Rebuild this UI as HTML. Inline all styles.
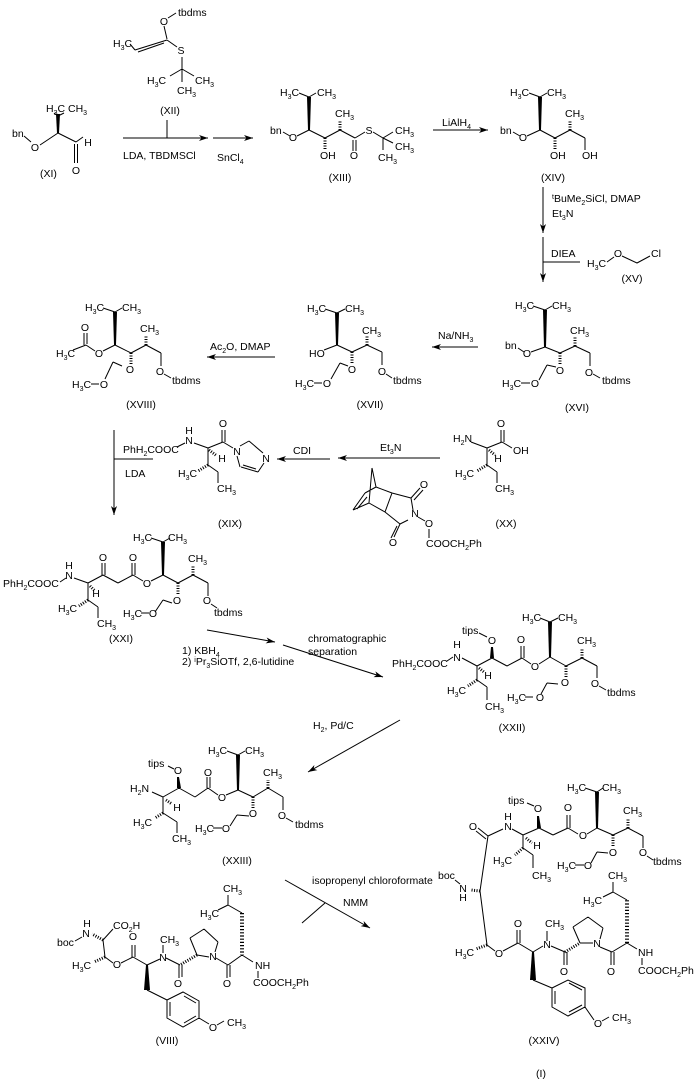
<!DOCTYPE html>
<html><head><meta charset="utf-8">
<style>
html,body{margin:0;padding:0;background:#fff;}
svg{display:block;}
text{font-family:"Liberation Sans",Arial,sans-serif;font-size:10.5px;fill:#000;}
.m{text-anchor:middle;}
.s{font-size:7px;}
.b{stroke:#000;stroke-width:1;fill:none;}
.h{stroke:#000;stroke-width:3;stroke-dasharray:1 1.5;fill:none;}
.hw{stroke:#000;stroke-width:4;stroke-dasharray:1.2 2;fill:none;}
.a{stroke:#000;stroke-width:1;fill:none;marker-end:url(#ah);}
</style></head>
<body>
<svg width="697" height="1080" viewBox="0 0 697 1080" xmlns="http://www.w3.org/2000/svg">
<defs>
<marker id="ah" markerUnits="userSpaceOnUse" markerWidth="10" markerHeight="7" refX="9" refY="3.5" orient="auto">
<path d="M0,0.5 L9,3.5 L0,6.5 L2.5,3.5 Z" fill="#000"/>
</marker>
</defs>

<!-- single bonds -->
<path class="b" d="
M168 18L176 13 M164 26L167 39 M167 40L135 50 M164 43L138 52 M130 44L135 50 M167 40L177 47 M182 57L182 69 M182 69L170 76 M182 69L194 76 M182 69L182 82 M167 120L167 138
M54 113L58 116 M58 116L64 113 M24 136L31 142 M40 145L58 133 M58 133L76 142 M76 142L83 137 M74.5 144L74.5 163 M77.5 144L77.5 163
M299 93L309 97 M309 97L316 93 M283 132L290 136 M297 136L309 130 M309 130L325 138 M325 138L340 130 M340 130L355 138 M353 140L353 151 M356 140L356 151 M355 138L365 132 M373 132L383 138 M383 138L393 132 M383 138L393 143 M383 138L383 150
M529 93L540 97 M540 97L547 93 M513 132L520 136 M527 136L540 130 M540 130L555 138 M555 138L570 130 M570 130L585 138 M585 138L585 150
M543 262L580 262
M607 262L614 257 M622 256L637 263 M637 263L650 256
M533 306L545 310 M545 310L552 306 M518 348L524 352 M531 352L545 347 M545 347L560 353 M560 353L575 346 M575 346L590 353 M590 353L590 366 M593 374L600 378 M547 365L556 367 M547 365L539 380 M521 383L530 383
M325 309L337 313 M337 313L345 309 M324 350L337 345 M337 345L352 352 M352 352L367 345 M367 345L382 352 M382 352L382 365 M386 374L392 378 M340 363L348 366 M340 363L331 379 M314 383L322 383
M103 308L115 312 M115 312L122 308 M103 351L115 345 M84 333L84 345 M87 333L87 344 M86 345L95 351 M73 350L86 345 M115 345L131 353 M131 353L146 345 M146 345L161 353 M161 353L161 366 M164 374L171 378 M113 362L122 366 M113 362L105 379 M91 384L99 384
M114 459L153 459
M177 447L185 443 M194 443L208 448 M208 448L223 442 M222 442L222 430 M225 442L225 430 M223 442L233 448
M240 446L249 441 M249 441L263 453 M264 463L258 472 M258 472L241 467 M256 469L243 465 M240 467L237 456
M208 448L208 465 M208 465L218 472 M218 472L218 483
M372 468L376 487 M372 468L369 503 M376 487L392 493 M376 487L365 493 M365 493L353 510 M367 497L357 509 M353 510L369 503 M369 503L385 512 M392 493L385 512
M392 493L411 498 M411 498L420 488 M414 500L423 490 M411 498L413 510 M385 512L400 524 M408 520L400 524 M400 524L394 537 M397 526L391 538 M418 517L425 521 M429 529L429 538
M471 442L487 448 M487 448L502 442 M501 442L501 430 M504 442L504 430 M502 442L512 448 M487 448L487 465 M487 465L497 472 M497 472L497 483
M151 538L163 542 M163 542L170 538
M60 582L66 578 M74 578L88 583 M88 583L103 575 M102 575L102 563 M105 575L105 563 M103 575L118 583 M118 583L133 575 M132 575L132 563 M135 575L135 563 M133 575L143 581 M151 581L163 575 M163 575L178 583 M178 583L193 575 M193 575L208 583 M208 583L208 596 M211 604L217 608
M88 583L88 600 M88 600L98 607 M98 607L98 618 M163 600L172 603 M163 600L155 612 M141 613L149 613
M540 618L550 622 M550 622L558 618 M479 633L487 637
M447 661L453 657 M462 658L477 666 M477 666L492 658 M492 658L507 666 M507 666L522 658 M521 658L521 646 M524 658L524 646 M522 658L531 664 M539 664L550 657 M550 657L566 666 M566 666L582 658 M582 658L597 666 M597 666L597 678 M599 686L606 690
M477 666L477 680 M477 680L487 687 M487 687L487 700 M547 683L558 684 M547 683L541 694 M525 697L533 697
M227 751L238 755 M238 755L245 751 M168 766L174 769
M152 792L163 797 M163 797L179 788 M179 788L195 797 M195 797L208 788 M207 788L207 777 M210 788L210 777 M208 788L218 795 M226 795L238 790 M238 790L253 797 M253 797L268 788 M268 788L283 797 M283 797L283 810 M286 818L293 822
M163 797L163 813 M163 813L177 822 M177 822L177 833 M237 815L249 816 M237 815L230 826 M213 828L222 828
M325 903L302 923
M228 895L228 905 M218 910L228 905 M228 905L242 913
M242 955L253 962 M258 971L258 978 M242 955L228 965 M227 965L227 978 M230 965L230 977 M228 965L216 958
M215 952L218 942 M218 942L204 929 M204 929L190 938 M190 938L197 955 M197 955L209 957
M179 965L179 978 M182 965L182 977 M180 965L166 958 M163 953L163 945 M160 959L147 965 M147 990L167 1000
M167 1000L183 992L199 1001L199 1018L183 1027L167 1018Z M184 996L196 1003 M196 1016L184 1023 M170 1002L170 1016
M199 1018L209 1024 M217 1025L224 1021
M147 965L133 957 M132 957L132 945 M135 957L135 945 M133 957L121 963 M113 963L105 957 M105 957L103 940 M103 940L113 929 M75 941L82 937
M585 788L597 792 M597 792L603 788 M527 803L534 806
M478 828L488 836 M476 831L486 839 M488 836L503 829 M512 829L523 835 M523 835L539 828 M539 828L553 835 M553 835L568 828 M567 828L567 815 M570 828L570 815 M568 828L578 834 M587 834L597 828 M597 828L613 835 M613 835L628 828 M628 828L643 836 M643 836L643 848 M647 856L653 860
M523 835L523 848 M523 848L533 855 M533 855L533 868 M597 852L608 853 M597 852L591 863 M575 865L584 865
M488 836L480 891 M480 891L487 945 M455 880L460 884
M487 945L495 951 M503 951L518 943 M517 943L517 930 M520 943L520 930 M518 943L533 952 M533 952L543 946 M547 941L547 931
M533 980L552 988
M552 988L568 980L585 988L585 1007L568 1016L552 1007Z M569 983L582 990 M582 1005L569 1012 M555 991L555 1004
M585 1007L594 1020 M602 1021L609 1017
M551 946L565 952 M564 952L564 965 M567 952L567 965
M580 943L593 943 M600 939L603 928 M603 928L588 917 M588 917L573 927 M573 927L580 943
M600 947L612 952 M611 952L611 965 M614 952L614 965 M612 952L627 943
M627 900L613 892 M613 892L613 882 M613 892L603 897 M627 943L637 949 M642 958L642 965
"/>

<!-- hashed bonds -->
<path class="h" d="
M325 138L325 150 M340 130L340 120
M555 138L555 150 M570 130L570 120
M560 353L560 365 M575 346L575 336
M352 352L352 364 M367 345L367 335
M131 353L131 365 M146 345L146 335
M209 450L217 456 M208 465L198 471
M489 450L495 455 M487 465L477 471
M90 586L95 591 M88 600L79 606 M178 583L178 595 M193 575L193 565
M479 668L484 672 M477 680L468 686 M566 666L566 677 M582 658L582 648
M166 800L172 804 M163 813L155 818 M253 797L253 808 M268 788L268 780
M197 955L180 965 M105 957L94 962 M103 940L92 934
M526 838L532 843 M523 848L515 855 M613 835L613 847 M628 828L628 818 M480 891L471 890 M487 945L476 949 M565 952L580 943
"/>
<path class="hw" d="M242 913L242 955 M627 943L627 900"/>

<!-- wedges -->
<g fill="#000">
<polygon points="56,114 60,114 59,133 57,133"/>
<polygon points="307,97 311,97 310,130 308,130"/>
<polygon points="538,97 542,97 541,130 539,130"/>
<polygon points="543,310 547,310 546,347 544,347"/>
<polygon points="335,313 339,313 338,345 336,345"/>
<polygon points="113,312 117,312 116,345 114,345"/>
<polygon points="161,542 165,542 164,575 162,575"/>
<polygon points="548,622 552,622 551,657 549,657"/>
<polygon points="491,647 493,647 494,658 490,658"/>
<polygon points="236,755 240,755 239,790 237,790"/>
<polygon points="177,777 179,777 181,788 177,788"/>
<polygon points="146,965 148,965 150,990 144,990"/>
<polygon points="595,792 599,792 598,828 596,828"/>
<polygon points="537,816 539,816 541,828 537,828"/>
<polygon points="532,952 534,952 536,980 530,980"/>
</g>

<!-- reaction arrows -->
<path class="a" d="M123 138L208 138"/>
<path class="a" d="M213 138L253 138"/>
<path class="a" d="M433 130L488 130"/>
<path class="a" d="M543 187L543 233"/>
<path class="a" d="M543 237L543 282"/>
<path class="a" d="M478 347L432 347"/>
<path class="a" d="M275 357L207 357"/>
<path class="a" d="M114 430L114 515"/>
<path class="a" d="M330 459L277 459"/>
<path class="a" d="M440 458L338 458"/>
<path class="a" d="M207 630L275 642"/>
<path class="a" d="M283 645L383 677"/>
<path class="a" d="M400 720L308 772"/>
<path class="a" d="M285 880L370 928"/>

<!-- XII -->
<text x="178" y="16">tbdms</text>
<text class="m" x="164" y="25">O</text>
<text x="113" y="47">H<tspan class="s" dy="3">3</tspan><tspan dy="-3">C</tspan></text>
<text class="m" x="181" y="54">S</text>
<text x="147" y="84">H<tspan class="s" dy="3">3</tspan><tspan dy="-3">C</tspan></text>
<text x="195" y="84">CH<tspan class="s" dy="3">3</tspan></text>
<text x="177" y="94">CH<tspan class="s" dy="3">3</tspan></text>
<text class="m" x="170" y="114">(XII)</text>
<text x="123" y="159">LDA, TBDMSCl</text>
<text x="217" y="161">SnCl<tspan class="s" dy="3">4</tspan></text>

<!-- XI -->
<text x="46" y="112">H<tspan class="s" dy="3">3</tspan><tspan dy="-3">C</tspan></text>
<text x="68" y="112">CH<tspan class="s" dy="3">3</tspan></text>
<text x="12" y="137">bn</text>
<text class="m" x="35" y="151">O</text>
<text class="m" x="88" y="146">H</text>
<text class="m" x="76" y="174">O</text>
<text x="40" y="177">(XI)</text>

<!-- XIII -->
<text x="280" y="96">H<tspan class="s" dy="3">3</tspan><tspan dy="-3">C</tspan></text>
<text x="317" y="96">CH<tspan class="s" dy="3">3</tspan></text>
<text x="270" y="134">bn</text>
<text class="m" x="293" y="141">O</text>
<text x="320" y="159">OH</text>
<text x="335" y="117">CH<tspan class="s" dy="3">3</tspan></text>
<text class="m" x="354" y="159">O</text>
<text class="m" x="369" y="134">S</text>
<text x="395" y="134">CH<tspan class="s" dy="3">3</tspan></text>
<text x="395" y="150">CH<tspan class="s" dy="3">3</tspan></text>
<text x="378" y="161">CH<tspan class="s" dy="3">3</tspan></text>
<text class="m" x="340" y="181">(XIII)</text>
<text x="442" y="126">LiAlH<tspan class="s" dy="3">4</tspan></text>

<!-- XIV -->
<text x="510" y="96">H<tspan class="s" dy="3">3</tspan><tspan dy="-3">C</tspan></text>
<text x="547" y="96">CH<tspan class="s" dy="3">3</tspan></text>
<text x="500" y="134">bn</text>
<text class="m" x="523" y="141">O</text>
<text x="550" y="159">OH</text>
<text x="565" y="117">CH<tspan class="s" dy="3">3</tspan></text>
<text x="582" y="159">OH</text>
<text class="m" x="553" y="181">(XIV)</text>
<text x="552" y="202"><tspan class="s" dy="-3">t</tspan><tspan dy="3">BuMe</tspan><tspan class="s" dy="3">2</tspan><tspan dy="-3">SiCl, DMAP</tspan></text>
<text x="552" y="217">Et<tspan class="s" dy="3">3</tspan><tspan dy="-3">N</tspan></text>
<text x="551" y="257">DIEA</text>

<!-- XV -->
<text x="587" y="267">H<tspan class="s" dy="3">3</tspan><tspan dy="-3">C</tspan></text>
<text class="m" x="618" y="257">O</text>
<text x="651" y="257">Cl</text>
<text class="m" x="632" y="282">(XV)</text>

<!-- XVI -->
<text x="515" y="309">H<tspan class="s" dy="3">3</tspan><tspan dy="-3">C</tspan></text>
<text x="552" y="309">CH<tspan class="s" dy="3">3</tspan></text>
<text x="505" y="349">bn</text>
<text class="m" x="527" y="357">O</text>
<text class="m" x="560" y="374">O</text>
<text x="570" y="334">CH<tspan class="s" dy="3">3</tspan></text>
<text class="m" x="589" y="376">O</text>
<text x="602" y="384">tbdms</text>
<text x="502" y="387">H<tspan class="s" dy="3">3</tspan><tspan dy="-3">C</tspan></text>
<text class="m" x="535" y="387">O</text>
<text class="m" x="577" y="411">(XVI)</text>
<text x="438" y="339">Na/NH<tspan class="s" dy="3">3</tspan></text>

<!-- XVII -->
<text x="307" y="312">H<tspan class="s" dy="3">3</tspan><tspan dy="-3">C</tspan></text>
<text x="345" y="312">CH<tspan class="s" dy="3">3</tspan></text>
<text x="309" y="357">HO</text>
<text class="m" x="352" y="373">O</text>
<text x="362" y="334">CH<tspan class="s" dy="3">3</tspan></text>
<text class="m" x="382" y="375">O</text>
<text x="393" y="384">tbdms</text>
<text x="295" y="387">H<tspan class="s" dy="3">3</tspan><tspan dy="-3">C</tspan></text>
<text class="m" x="327" y="387">O</text>
<text class="m" x="370" y="408">(XVII)</text>
<text x="210" y="350">Ac<tspan class="s" dy="3">2</tspan><tspan dy="-3">O, DMAP</tspan></text>

<!-- XVIII -->
<text x="85" y="311">H<tspan class="s" dy="3">3</tspan><tspan dy="-3">C</tspan></text>
<text x="122" y="311">CH<tspan class="s" dy="3">3</tspan></text>
<text class="m" x="85" y="331">O</text>
<text class="m" x="99" y="357">O</text>
<text x="56" y="357">H<tspan class="s" dy="3">3</tspan><tspan dy="-3">C</tspan></text>
<text class="m" x="130" y="373">O</text>
<text x="140" y="332">CH<tspan class="s" dy="3">3</tspan></text>
<text class="m" x="160" y="375">O</text>
<text x="172" y="384">tbdms</text>
<text x="72" y="388">H<tspan class="s" dy="3">3</tspan><tspan dy="-3">C</tspan></text>
<text class="m" x="104" y="388">O</text>
<text class="m" x="141" y="408">(XVIII)</text>

<text x="123" y="453">PhH<tspan class="s" dy="3">2</tspan><tspan dy="-3">COOC</tspan></text>
<text x="125" y="477">LDA</text>

<!-- XIX -->
<text class="m" x="189" y="434">H</text>
<text class="m" x="189" y="444">N</text>
<text class="m" x="223" y="427">O</text>
<text class="m" x="237" y="455">N</text>
<text class="m" x="266" y="462">N</text>
<text class="m" x="222" y="462">H</text>
<text x="178" y="477">H<tspan class="s" dy="3">3</tspan><tspan dy="-3">C</tspan></text>
<text x="217" y="492">CH<tspan class="s" dy="3">3</tspan></text>
<text class="m" x="230" y="527">(XIX)</text>
<text x="293" y="454">CDI</text>
<text x="380" y="451">Et<tspan class="s" dy="3">3</tspan><tspan dy="-3">N</tspan></text>

<!-- norbornene reagent -->
<text class="m" x="424" y="488">O</text>
<text class="m" x="415" y="517">N</text>
<text class="m" x="393" y="546">O</text>
<text class="m" x="429" y="527">O</text>
<text x="426" y="547">COOCH<tspan class="s" dy="3">2</tspan><tspan dy="-3">Ph</tspan></text>

<!-- XX -->
<text x="453" y="442">H<tspan class="s" dy="3">2</tspan><tspan dy="-3">N</tspan></text>
<text class="m" x="501" y="427">O</text>
<text x="513" y="454">OH</text>
<text class="m" x="498" y="462">H</text>
<text x="455" y="477">H<tspan class="s" dy="3">3</tspan><tspan dy="-3">C</tspan></text>
<text x="495" y="492">CH<tspan class="s" dy="3">3</tspan></text>
<text class="m" x="506" y="527">(XX)</text>

<!-- XXI -->
<text x="133" y="541">H<tspan class="s" dy="3">3</tspan><tspan dy="-3">C</tspan></text>
<text x="168" y="541">CH<tspan class="s" dy="3">3</tspan></text>
<text x="3" y="587">PhH<tspan class="s" dy="3">2</tspan><tspan dy="-3">COOC</tspan></text>
<text class="m" x="69" y="569">H</text>
<text class="m" x="69" y="579">N</text>
<text class="m" x="103" y="561">O</text>
<text class="m" x="133" y="561">O</text>
<text class="m" x="147" y="587">O</text>
<text class="m" x="177" y="604">O</text>
<text x="188" y="562">CH<tspan class="s" dy="3">3</tspan></text>
<text class="m" x="207" y="604">O</text>
<text x="214" y="616">tbdms</text>
<text x="123" y="617">H<tspan class="s" dy="3">3</tspan><tspan dy="-3">C</tspan></text>
<text class="m" x="153" y="617">O</text>
<text class="m" x="96" y="597">H</text>
<text x="58" y="612">H<tspan class="s" dy="3">3</tspan><tspan dy="-3">C</tspan></text>
<text x="97" y="627">CH<tspan class="s" dy="3">3</tspan></text>
<text class="m" x="121" y="642">(XXI)</text>
<text x="182" y="654">1) KBH<tspan class="s" dy="3">4</tspan></text>
<text x="182" y="665">2) <tspan class="s" dy="-3">i</tspan><tspan dy="3">Pr</tspan><tspan class="s" dy="3">3</tspan><tspan dy="-3">SiOTf, 2,6-lutidine</tspan></text>
<text x="308" y="642">chromatographic</text>
<text x="308" y="655">separation</text>

<!-- XXII -->
<text x="522" y="621">H<tspan class="s" dy="3">3</tspan><tspan dy="-3">C</tspan></text>
<text x="558" y="621">CH<tspan class="s" dy="3">3</tspan></text>
<text x="462" y="634">tips</text>
<text class="m" x="492" y="644">O</text>
<text x="392" y="667">PhH<tspan class="s" dy="3">2</tspan><tspan dy="-3">COOC</tspan></text>
<text class="m" x="457" y="648">H</text>
<text class="m" x="457" y="661">N</text>
<text class="m" x="521" y="643">O</text>
<text class="m" x="535" y="670">O</text>
<text class="m" x="565" y="686">O</text>
<text x="577" y="644">CH<tspan class="s" dy="3">3</tspan></text>
<text class="m" x="595" y="687">O</text>
<text x="607" y="696">tbdms</text>
<text x="507" y="701">H<tspan class="s" dy="3">3</tspan><tspan dy="-3">C</tspan></text>
<text class="m" x="540" y="701">O</text>
<text class="m" x="488" y="679">H</text>
<text x="447" y="694">H<tspan class="s" dy="3">3</tspan><tspan dy="-3">C</tspan></text>
<text x="485" y="710">CH<tspan class="s" dy="3">3</tspan></text>
<text class="m" x="512" y="731">(XXII)</text>
<text x="313" y="729">H<tspan class="s" dy="3">2</tspan><tspan dy="-3">, Pd/C</tspan></text>

<!-- XXIII -->
<text x="208" y="754">H<tspan class="s" dy="3">3</tspan><tspan dy="-3">C</tspan></text>
<text x="245" y="754">CH<tspan class="s" dy="3">3</tspan></text>
<text x="148" y="767">tips</text>
<text class="m" x="178" y="774">O</text>
<text x="130" y="792">H<tspan class="s" dy="3">2</tspan><tspan dy="-3">N</tspan></text>
<text class="m" x="208" y="776">O</text>
<text class="m" x="222" y="801">O</text>
<text class="m" x="253" y="817">O</text>
<text x="263" y="776">CH<tspan class="s" dy="3">3</tspan></text>
<text class="m" x="282" y="819">O</text>
<text x="295" y="828">tbdms</text>
<text x="195" y="832">H<tspan class="s" dy="3">3</tspan><tspan dy="-3">C</tspan></text>
<text class="m" x="226" y="832">O</text>
<text class="m" x="177" y="811">H</text>
<text x="133" y="826">H<tspan class="s" dy="3">3</tspan><tspan dy="-3">C</tspan></text>
<text x="172" y="842">CH<tspan class="s" dy="3">3</tspan></text>
<text class="m" x="237" y="864">(XXIII)</text>
<text x="312" y="884">isopropenyl chloroformate</text>
<text x="343" y="906">NMM</text>

<!-- VIII -->
<text x="223" y="892">CH<tspan class="s" dy="3">3</tspan></text>
<text x="200" y="917">H<tspan class="s" dy="3">3</tspan><tspan dy="-3">C</tspan></text>
<text x="255" y="969">NH</text>
<text x="253" y="986">COOCH<tspan class="s" dy="3">2</tspan><tspan dy="-3">Ph</tspan></text>
<text class="m" x="227" y="987">O</text>
<text class="m" x="213" y="960">N</text>
<text class="m" x="178" y="987">O</text>
<text class="m" x="163" y="961">N</text>
<text x="160" y="943">CH<tspan class="s" dy="3">3</tspan></text>
<text class="m" x="213" y="1031">O</text>
<text x="227" y="1026">CH<tspan class="s" dy="3">3</tspan></text>
<text class="m" x="133" y="940">O</text>
<text class="m" x="117" y="968">O</text>
<text x="72" y="969">H<tspan class="s" dy="3">3</tspan><tspan dy="-3">C</tspan></text>
<text class="m" x="86" y="937">N</text>
<text class="m" x="87" y="927">H</text>
<text x="57" y="946">boc</text>
<text x="113" y="929">CO<tspan class="s" dy="3">2</tspan><tspan dy="-3">H</tspan></text>
<text class="m" x="167" y="1044">(VIII)</text>

<!-- XXIV -->
<text x="567" y="791">H<tspan class="s" dy="3">3</tspan><tspan dy="-3">C</tspan></text>
<text x="602" y="791">CH<tspan class="s" dy="3">3</tspan></text>
<text x="508" y="804">tips</text>
<text class="m" x="538" y="812">O</text>
<text class="m" x="473" y="830">O</text>
<text class="m" x="508" y="820">H</text>
<text class="m" x="508" y="830">N</text>
<text class="m" x="568" y="811">O</text>
<text class="m" x="583" y="839">O</text>
<text class="m" x="613" y="856">O</text>
<text x="623" y="814">CH<tspan class="s" dy="3">3</tspan></text>
<text class="m" x="643" y="856">O</text>
<text x="653" y="865">tbdms</text>
<text x="557" y="869">H<tspan class="s" dy="3">3</tspan><tspan dy="-3">C</tspan></text>
<text class="m" x="588" y="869">O</text>
<text class="m" x="537" y="849">H</text>
<text x="493" y="864">H<tspan class="s" dy="3">3</tspan><tspan dy="-3">C</tspan></text>
<text x="532" y="879">CH<tspan class="s" dy="3">3</tspan></text>
<text x="438" y="879">boc</text>
<text class="m" x="463" y="892">N</text>
<text class="m" x="463" y="901">H</text>
<text x="455" y="956">H<tspan class="s" dy="3">3</tspan><tspan dy="-3">C</tspan></text>
<text class="m" x="499" y="957">O</text>
<text class="m" x="518" y="927">O</text>
<text class="m" x="547" y="948">N</text>
<text x="545" y="927">CH<tspan class="s" dy="3">3</tspan></text>
<text class="m" x="598" y="1027">O</text>
<text x="612" y="1021">CH<tspan class="s" dy="3">3</tspan></text>
<text class="m" x="564" y="975">O</text>
<text class="m" x="597" y="947">N</text>
<text class="m" x="611" y="975">O</text>
<text x="608" y="879">CH<tspan class="s" dy="3">3</tspan></text>
<text x="583" y="904">H<tspan class="s" dy="3">3</tspan><tspan dy="-3">C</tspan></text>
<text x="638" y="956">NH</text>
<text x="638" y="974">COOCH<tspan class="s" dy="3">2</tspan><tspan dy="-3">Ph</tspan></text>
<text class="m" x="544" y="1044">(XXIV)</text>
<text class="m" x="541" y="1077">(I)</text>
</svg>
</body></html>
